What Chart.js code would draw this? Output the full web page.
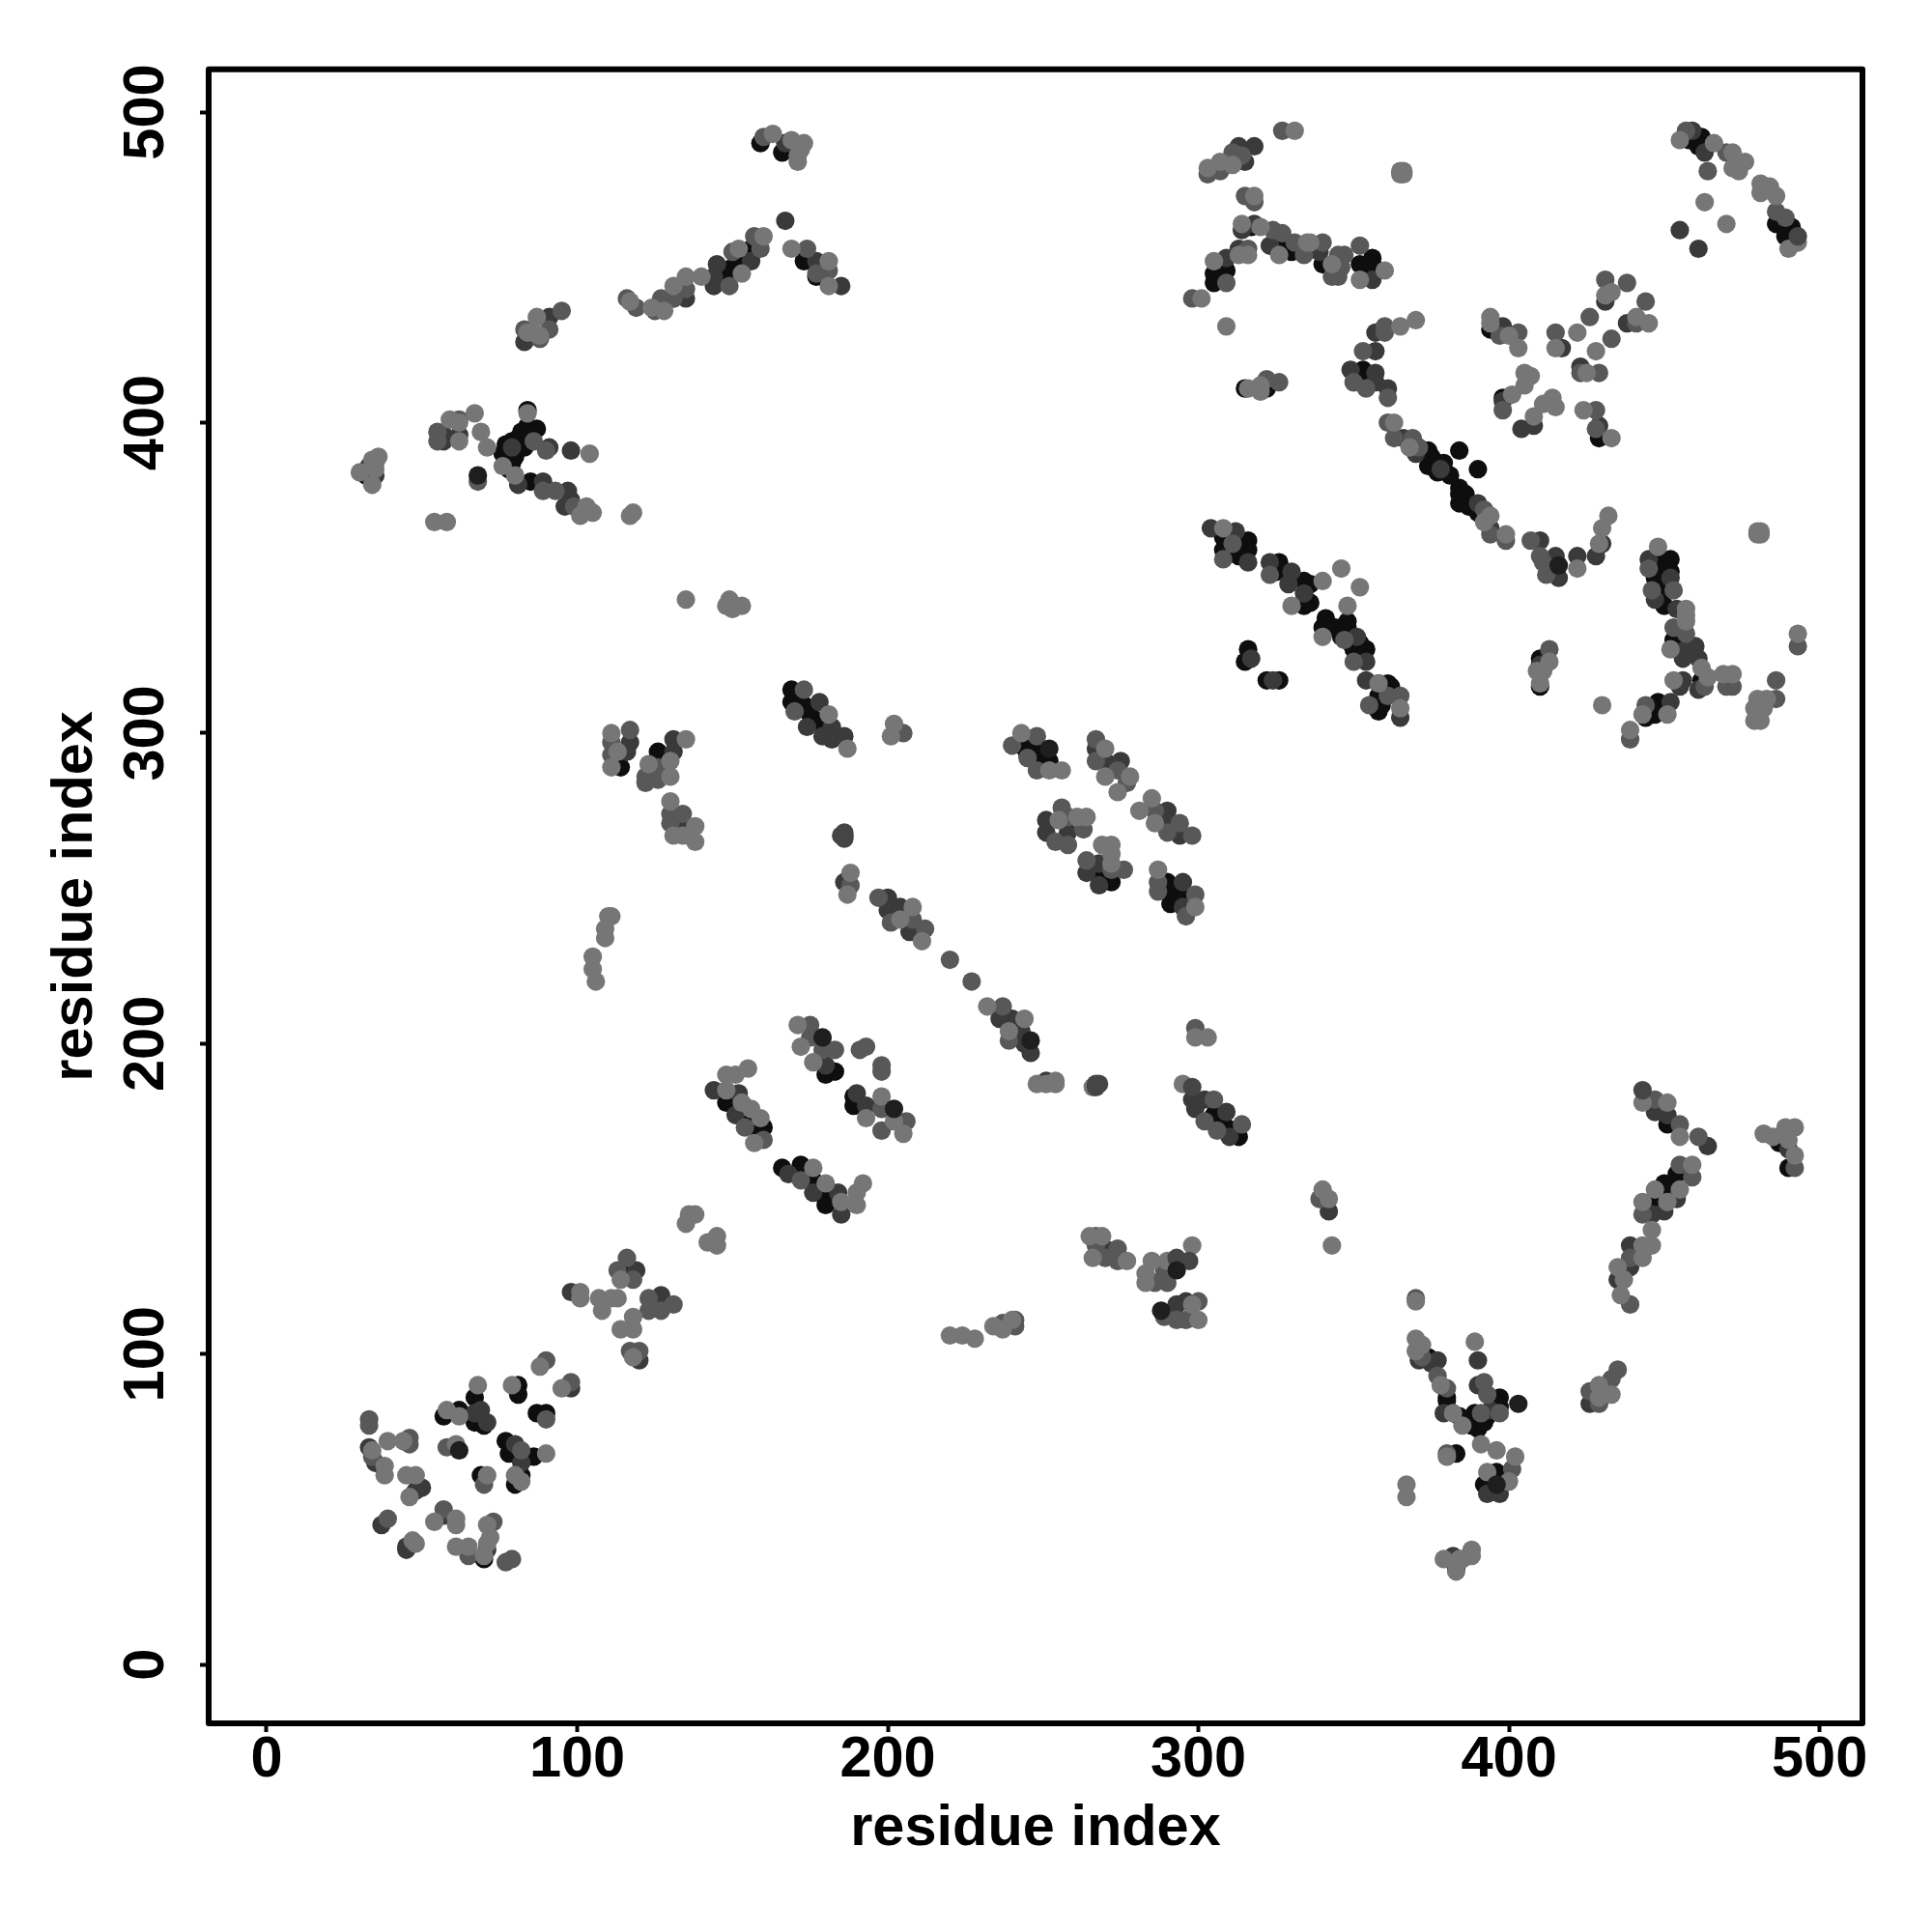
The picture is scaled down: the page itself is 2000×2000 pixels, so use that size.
<!DOCTYPE html>
<html>
<head>
<meta charset="utf-8">
<style>
  html, body { margin: 0; padding: 0; background: #fff; }
  canvas { display: block; }
</style>
<script src="https://cdn.jsdelivr.net/npm/chart.js@4/dist/chart.umd.js"></script>
</head>
<body>
<canvas id="contact-chart" width="2000" height="2000"></canvas>
<script>
// residue contacts as [i, j], one list per grey level
const lightContacts = [
  [36,389],[34,388],[35,387],[30,384],[34,380],[35,385],[67,403],[59,401],[62,394],[69,397],[71,392],[62,400],[84,403],[76,386],[80,383],[104,390],[101,370],[103,373],[105,371],[118,371],[117,370],[54,368],[58,368],
  [87,434],[86,429],[84,429],[88,428],[117,439],[124,437],[128,436],[131,444],[135,447],[140,447],[153,448],[152,456],
  [135,343],[149,343],[153,341],[150,340],[148,341],
  [160,460],[163,493],[169,491],[173,490],[171,484],[171,486],[172,488],[169,456],[181,452],[181,444],
  [331,494],[311,483],[307,484],[303,482],[318,473],[314,464],[320,463],[326,454],[335,458],[316,454],[313,454],[305,452],[301,440],[309,431],[316,411],[320,412],[320,410],[308,366],[330,341],
  [336,458],[343,451],[352,446],[360,449],[370,433],[365,431],[365,481],[366,481],[365,480],[366,480],[363,400],[368,392],[392,368],[394,370],[399,364],[432,370],[430,366],[429,361],[422,353],[448,360],[457,340],[457,338],
  [394,434],[394,432],[400,428],[403,424],[415,424],[422,429],[433,442],[431,441],[441,434],[445,432],[428,423],[425,416],[405,416],[407,415],[405,412],[401,409],[408,402],[411,406],[414,408],[415,405],[424,404],[433,395],
  [455,491],[466,490],[472,487],[472,482],[474,481],[476,484],[481,477],[484,476],[481,474],[486,473],[493,458],[490,456],[463,471],[470,464],[480,365],[481,365],[480,364],[481,364],
  [346,353],[340,349],[352,347],[348,341],
  [340,331],[358,316],[365,308],[413,323],[409,320],[411,320],[410,316],[430,309],[439,301],[443,306],[451,306],[453,317],[452,327],[457,336],[462,321],[464,318],[469,319],[472,319],[493,332],[483,311],[480,311],[479,308],[482,308],[479,304],[481,304],[480,307],
  [443,181],[451,181],[455,170],[459,161],[482,171],[485,170],[489,173],[492,173],[490,169],[492,164],
  [340,153],[342,150],[343,135],[370,117],[370,105],[372,103],[370,101],[378,90],[382,81],[385,77],[389,104],[391,71],[396,69],[402,67],[400,59],[393,62],[380,67],[367,58],[367,54],[379,34],[383,30],[385,34],[388,37],[388,35],[384,34],
  [429,90],[433,87],[429,86],[436,119],[435,128],[437,124],[443,131],[443,135],[446,135],[446,140],[443,149],[451,149],[447,153],[455,153],
  [192,155],[190,152],[190,148],[185,149],[180,155],[220,106],[224,106],[228,105],[234,109],[240,111],[237,108],[265,138],[269,138],[266,131],[277,130],[298,135],[285,130],[290,130],[283,126],[283,123],[298,116],[300,111],
  [176,160],[181,306],[187,295],[202,303],[201,299],[185,267],[188,255],[187,248],[208,244],[204,240],[211,233],[232,212],[244,208],[239,204],[248,187],[251,187],[254,188],[254,187],[266,186],[295,187],[299,202],[303,202],
  [243,300],[252,288],[256,288],[270,295],[270,286],[278,286],[274,281],[285,279],[281,275],[286,271],[261,273],[264,273],[255,272],[269,264],[272,264],[272,261],[272,258],[287,256],[299,244],
  [171,206],[172,199],[176,194],[193,176],[198,183],[202,175],[205,171],
  [111,300],[111,289],[113,294],[135,298],[130,291],[123,290],[130,286],[130,278],[131,267],[134,267],[138,270],[138,265],[110,241],[111,241],[109,237],[109,234],[105,228],[105,224],[106,220],
  [155,192],[151,190],[148,190],[148,185],[153,181],[156,179],[157,168],[159,176],
  [136,145],[138,145],[135,142],[145,138],[142,136],[145,135],[114,124],[101,120],[101,118],[107,118],[111,118],[113,118],[108,114],[118,112],[118,108],[114,108],[118,99],[88,96],[95,89],[68,90],[79,90],[90,68],[58,82],[62,80],[61,71],[34,69],[39,72],[44,72],[38,64],[38,61],[45,61],[48,61],[46,54],[54,46],[61,47],[61,45],[71,45],[72,41],[71,39],[47,40],[48,39],[61,38],[65,38],[70,35],[71,61],[80,61],[82,59]
];

const midContacts = [
  [55,397],[55,394],[62,401],[86,394],[90,391],[89,378],[93,378],[99,373],[68,381],
  [95,436],[91,430],[83,430],[88,427],[116,440],[119,437],[125,436],[127,440],[135,443],[131,440],[149,444],[150,455],[157,460],
  [159,456],[160,492],[174,456],[177,448],[181,449],
  [327,494],[311,487],[314,486],[307,481],[303,480],[315,473],[318,471],[324,462],[327,461],[331,458],[334,454],[316,456],[309,445],
  [298,440],[311,361],[308,356],[323,351],[326,413],[322,414],
  [340,458],[343,447],[345,447],[345,454],[347,454],[346,450],[352,457],[360,431],[360,429],[353,423],[350,413],[354,411],[361,408],
  [361,400],[363,395],[369,395],[371,392],[392,372],[394,364],[399,362],[407,362],[410,357],[411,355],[412,351],[445,353],[446,346],[453,346],
  [403,429],[397,428],[415,429],[426,434],[431,446],[438,445],[444,439],[441,432],[433,427],[423,416],[429,416],[398,404],[428,404],[428,398],
  [457,494],[470,487],[486,468],[489,466],[464,481],
  [347,330],[350,323],[355,309],[365,312],[361,312],[413,327],[439,298],[444,309],[453,334],[457,332],[463,315],[470,315],[472,315],[493,328],[486,317],[486,311],
  [447,182],[455,174],[461,170],[455,161],[492,160],
  [339,150],[370,118],[372,99],[377,93],[380,89],[391,81],[397,81],[392,91],[393,87],[401,63],[380,68],[429,84],[426,88],[433,92],[435,95],[439,116],[439,131],[443,145],[459,157],
  [172,156],[237,110],[241,111],[241,109],[267,138],[267,135],[274,134],[270,131],[274,130],[289,127],[286,123],[290,123],[289,112],[300,117],[293,111],[296,111],
  [173,314],[170,307],[205,300],[186,267],[188,251],[197,247],[201,239],[208,240],[212,237],[220,227],[227,220],[237,212],[239,201],
  [240,296],[248,299],[245,292],[248,288],[267,298],[267,291],[274,288],[277,284],[286,275],[294,271],[290,268],[298,267],[256,276],[258,273],[263,269],[254,265],[258,264],[264,259],[276,256],[272,256],[287,252],[287,249],[299,248],[296,241],
  [175,206],[175,202],[179,198],[183,198],[193,199],[191,198],[198,193],[198,191],[198,179],[206,175],[198,172],[302,175],[306,172],[314,174],[305,182],[299,205],
  [111,297],[111,293],[126,289],[122,286],[122,284],[126,285],[130,274],[130,271],[134,274],[117,301],[154,173],[160,169],
  [116,131],[113,127],[118,124],[123,118],[123,114],[127,114],[131,116],[117,101],[120,101],[90,98],[98,91],[90,79],[58,70],[82,69],[70,58],[33,79],[33,77],[34,67],[46,73],[46,71],[39,47],[57,50],[73,46],[65,35],[77,33],[79,34]
];

const darkContacts = [
  [33,386],[35,383],[57,396],[57,394],[62,396],[79,392],[81,380],[89,381],[91,392],[98,391],[97,378],[98,375],[96,373],
  [91,434],[83,426],[131,440],[135,440],[144,444],[144,447],[145,451],[156,452],
  [167,490],[167,465],[177,452],[185,444],
  [318,489],[313,489],[315,484],[311,484],[314,462],[318,464],[323,457],[313,456],[309,453],
  [304,366],[312,365],[316,355],[323,355],[330,352],[329,348],[334,345],
  [339,455],[356,446],[357,429],[357,423],[349,417],[357,416],[350,413],[357,413],[361,411],
  [366,395],[370,390],[378,385],[390,374],[394,366],[410,362],[415,357],[416,350],[422,357],[428,357],[430,361],[445,356],[452,350],[447,343],[454,340],
  [398,431],[417,424],[431,439],[438,432],[423,418],[398,407],[408,399],[404,398],[429,399],
  [459,494],[463,487],[455,462],[461,456],
  [351,331],[354,323],[354,317],[365,305],[410,322],[452,310],[455,315],[456,317],[460,328],[457,327],[456,324],[461,324],[461,314],
  [447,178],[451,177],[464,167],[490,166],
  [342,146],[371,98],[377,98],[375,97],[379,81],[394,82],[390,90],[390,98],[393,55],[397,55],[382,35],[426,84],[435,124],[439,128],[439,135],[446,145],[450,146],[454,150],
  [184,152],[185,145],[176,152],[168,158],[270,134],[293,116],[296,117],
  [174,302],[178,310],[179,299],[182,302],[182,298],[186,299],[317,324],[324,317],
  [267,295],[270,291],[275,291],[290,275],[290,271],[294,267],[251,272],[251,268],[258,268],[268,258],[264,255],[268,251],[295,252],[295,244],
  [200,247],[200,243],[204,244],[207,236],[236,208],[240,208],[243,204],[244,200],[246,197],[251,188],[298,182],[299,179],[302,182],[309,178],[310,170],[186,252],
  [180,193],[190,184],[193,180],
  [117,297],[116,294],[131,298],[131,294],[134,270],[144,185],[152,184],[151,177],
  [119,127],[98,120],[127,119],[127,116],[120,98],[98,89],[67,81],[69,82],[71,78],[80,71],[82,65],[33,70],[35,65],[48,56],[50,57],[37,45],[57,48],[71,37],[45,38],[45,37]
];

const blackContacts = [
  [32,383],[84,404],[87,398],[82,397],[81,395],[76,390],[77,388],[80,389],[78,385],[85,381],[79,394],[83,392],[84,399],[77,393],[79,387],
  [148,447],[153,451],[156,456],[148,449],[159,490],[166,487],[173,452],[177,447],[179,447],[150,450],[155,453],[150,448],
  [317,463],[327,457],[330,455],[305,448],[309,449],[305,445],[307,448],[322,411],[315,411],
  [308,363],[308,359],[311,359],[316,362],[316,359],[326,355],[325,352],[334,349],[334,341],[310,361],[313,357],
  [340,451],[352,451],[356,453],[356,450],[356,451],[353,417],[353,413],[353,415],[351,415],[374,391],[374,386],[377,387],[377,384],[384,391],[390,385],[384,379],[384,377],[386,377],[384,374],[390,371],[381,383],[379,387],[375,389],[386,375],[387,373],
  [449,356],[452,356],[449,352],[450,341],[449,354],[451,353],[447,350],[452,352],[450,346],[341,337],[348,336],[336,348],[336,342],[346,331],[349,329],[351,325],[352,329],
  [394,430],[398,408],[429,395],[458,491],[462,492],[461,489],[486,464],[491,463],[489,460],
  [340,334],[344,334],[348,334],[350,327],[354,327],[358,316],[361,316],[358,312],[359,309],[362,315],[360,313],[358,307],[410,315],[410,324],[444,305],[448,310],[447,306],[448,308],[450,307],[446,308],[453,330],[462,317],[451,174],
  [374,99],[380,86],[380,85],[384,80],[389,81],[388,77],[390,76],[393,80],[397,86],[397,83],[388,79],[392,78],[395,82],[386,78],[395,84],[396,62],[396,60],[392,58],[383,68],[383,31],[446,149],[451,152],[450,155],[454,158],[448,153],[450,150],[453,155],[447,147],
  [180,148],[176,156],[180,150],[166,160],[172,161],[169,314],[169,310],[173,309],[177,304],[172,310],[175,306],[171,312],[316,327],[315,323],[322,317],[326,317],[243,296],[247,295],[248,291],[252,291],[250,294],[245,293],[268,254],[272,252],[290,252],[291,248],[295,248],[291,245],[291,251],[292,246],[180,190],[183,191],[189,183],[189,180],[305,177],[309,173],[313,170],
  [114,289],[126,294],[148,181],[154,176],[158,172],[160,173],
  [116,127],[67,86],[81,90],[81,87],[87,81],[90,81],[57,80],[62,82],[67,78],[70,77],[77,72],[78,68],[86,67],[82,61],[80,58],[69,61],[70,34],[487,168],[490,160]
];

// the few darker points that sit on top of the lighter ones
const topBlackContacts = [
  [68,383],[62,69],[403,84],[396,58],[293,127],[288,114],[202,179],[179,202],[246,201],[416,354],[252,295]
];
const topMidContacts = [
  [186,268],[186,267],[185,267],[186,266],[268,187],[267,186],[267,187],[298,186],[443,185],[493,460],[297,130],[293,131]
];

const tickValues = [0, 100, 200, 300, 400, 500];
const axisLabel = "residue index";

const toPoints = (list) => list.map((p) => ({ x: p[0], y: p[1] }));

const series = (list, colour) => ({
  data: toPoints(list),
  backgroundColor: colour,
  borderWidth: 0,
  pointRadius: 9.6,
});

// box round the plot, chart.js only draws the axis side
const frame = {
  id: "frame",
  afterDraw(chart) {
    const { ctx, chartArea: a } = chart;
    ctx.save();
    ctx.strokeStyle = "#000";
    ctx.lineWidth = 6;
    ctx.lineJoin = "round";
    ctx.strokeRect(a.left, a.top, a.right - a.left, a.bottom - a.top);
    ctx.restore();
  },
};

const tickFont = { family: "Liberation Sans", size: 59.5, weight: "bold" };

const axis = (min, max) => ({
  type: "linear",
  min: min,
  max: max,
  afterBuildTicks: (s) => {
    s.ticks = tickValues.map((v) => ({ value: v }));
  },
  grid: {
    display: true,
    drawOnChartArea: false,
    tickLength: 9,
    tickWidth: 4,
    tickColor: "#000",
  },
  border: { display: false },
});

const xAxis = axis(-18.66, 513.8);
xAxis.afterFit = (s) => { s.height = 216; };
xAxis.ticks = { color: "#000", font: tickFont, padding: -6, autoSkip: false, maxRotation: 0, minRotation: 0 };
xAxis.title = {
  display: true,
  text: axisLabel,
  color: "#000",
  font: tickFont,
  padding: { top: 0, bottom: 70.5 },
};

const yAxis = axis(-18.9, 513.8);
yAxis.afterFit = (s) => { s.width = 216; };
yAxis.ticks = { color: "#000", font: tickFont, padding: 5, autoSkip: false, minRotation: 90, maxRotation: 90, crossAlign: "center" };
yAxis.title = {
  display: true,
  text: axisLabel,
  color: "#000",
  font: tickFont,
  padding: { top: 43, bottom: 0 },
};

new Chart(document.getElementById("contact-chart"), {
  type: "scatter",
  data: {
    // first dataset ends up on top
    datasets: [
      series(topBlackContacts, "#1e1e1e"),
      series(topMidContacts, "#454545"),
      series(lightContacts, "#767676"),
      series(midContacts, "#585858"),
      series(darkContacts, "#3a3a3a"),
      series(blackContacts, "#0e0e0e"),
    ],
  },
  options: {
    responsive: false,
    animation: false,
    layout: { padding: { top: 71.7, right: 72, bottom: 0, left: 0 } },
    plugins: { legend: { display: false }, tooltip: { enabled: false } },
    scales: { x: xAxis, y: yAxis },
  },
  plugins: [frame],
});
</script>
</body>
</html>
